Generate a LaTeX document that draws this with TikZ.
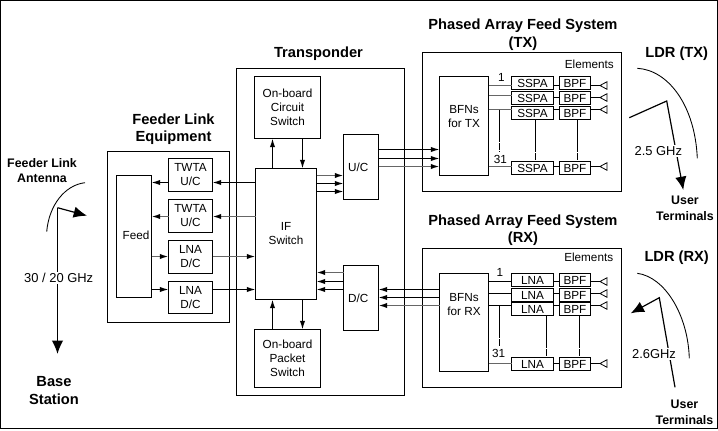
\documentclass[tikz,border=0pt]{standalone}
\usepackage{fontspec}
\setmainfont{Liberation Sans}
\usetikzlibrary{arrows.meta}
% Pixel-like units: y grows downward
\newcommand{\bodyfont}{\fontsize{8.8}{10.5}\selectfont}
\newcommand{\headfont}{\fontsize{11}{13}\selectfont\bfseries}
\newcommand{\subfont}{\fontsize{9.3}{11.6}\selectfont\bfseries}
\newcommand{\freqfont}{\fontsize{9.7}{11}\selectfont}
% \blk{name}{x1}{y1}{x2}{y2}{text}
\newcommand{\blk}[6]{\node[blk,minimum width={(#4-#2)*0.75pt},minimum height={(#5-#3)*0.75pt}] (#1) at ({(#2+#4)/2},{(#3+#5)/2}) {#6};}
\newcommand{\low}[1]{\raisebox{-1pt}{#1}}
\tikzset{
  blk/.style={draw=black,line width=0.75pt,fill=white,inner sep=0pt,outer sep=0pt,align=center,font=\bodyfont},
  txt/.style={inner sep=0pt,align=center,font=\bodyfont},
  head/.style={inner sep=0pt,align=center,font=\headfont},
  sub/.style={inner sep=0pt,align=center,font=\subfont},
  freq/.style={fill=white,inner sep=1pt,font=\freqfont},
  wire/.style={line width=0.9pt,draw=black},
  soft/.style={line width=1.1pt,draw=black!60},
  sig/.style={wire,-{Latex[length=6.5pt,width=4pt]}},
  sigsoft/.style={soft,-{Latex[length=6.5pt,width=4pt,color=black]}},
  beam/.style={line width=0.9pt,draw=black,-{Latex[length=10pt,width=8.5pt]}},
  arc/.style={line width=0.65pt,draw=black},
  tie/.style={line width=0.95pt,draw=black,dash pattern=on 24pt off 1.2pt on 5pt off 1.2pt},
  horn/.style={draw=black,line width=0.6pt,fill=white}
}
% Small feed horn with its point on the left
\newcommand{\horn}[2]{\coordinate (#1) at (600,#2); \draw[horn] (#1) -- ++(7,-3.8) -- ++(0,7.6) -- cycle;}
\begin{document}
\begin{tikzpicture}[x=0.75pt,y=-0.75pt]
\useasboundingbox (0,0) rectangle (718,430);
\draw[line width=1pt] (0.5,0.5) rectangle (717.5,428.5);

% Enclosures
\blk{feedbox}{107.5}{151.5}{229.5}{322.5}{}
\blk{transbox}{236.5}{68.5}{404.5}{395.5}{}
\blk{txbox}{422.5}{52.5}{621.5}{191.5}{}
\blk{rxbox}{422.5}{248.5}{621.5}{387.5}{}

% Feeder link equipment
\blk{feed}{116.5}{175.5}{151.5}{297.5}{\raisebox{2.5pt}{\kern3pt Feed}}
\blk{twa}{168.5}{158.5}{212.5}{191.5}{TWTA\\U/C}
\blk{twb}{168.5}{199.5}{212.5}{232.5}{TWTA\\U/C}
\blk{lna}{168.5}{240.5}{212.5}{273.5}{LNA\\D/C}
\blk{lnb}{168.5}{281.5}{212.5}{313.5}{LNA\\D/C}

% Transponder
\blk{circ}{254.5}{76.5}{320.5}{138.5}{On-board\\Circuit\\Switch}
\blk{ifsw}{255.5}{168.5}{316.5}{299.5}{IF\\Switch}
\blk{pack}{254.5}{329.5}{320.5}{387.5}{On-board\\Packet\\Switch}
\blk{uc}{343.5}{134.5}{378.5}{199.5}{U/C\kern4pt}
\blk{dc}{343.5}{265.5}{378.5}{330.5}{D/C\kern4pt}

% Transmit array
\blk{bfntx}{439.5}{76.5}{488.5}{175.5}{}
\node[txt] (bfntxt) at (464,116.5) {BFNs\\for TX};
\blk{sa}{511.5}{76.5}{553.5}{89.5}{\low{SSPA}}
\blk{sb}{511.5}{91.5}{553.5}{104.5}{\low{SSPA}}
\blk{sc}{511.5}{106.5}{553.5}{119.5}{\low{SSPA}}
\blk{sd}{511.5}{161.5}{553.5}{174.5}{\low{SSPA}}
\blk{fa}{559.5}{76.5}{590.5}{89.5}{\low{BPF}}
\blk{fb}{559.5}{91.5}{590.5}{104.5}{\low{BPF}}
\blk{fc}{559.5}{106.5}{590.5}{119.5}{\low{BPF}}
\blk{fd}{559.5}{161.5}{590.5}{174.5}{\low{BPF}}
\horn{ha}{85.5}\horn{hb}{97.5}\horn{hc}{109.5}\horn{hd}{166.5}

% Receive array
\blk{bfnrx}{439.5}{273.5}{488.5}{371.5}{}
\node[txt] (bfnrxt) at (464,305) {BFNs\\for RX};
\blk{la}{511.5}{273.5}{553.5}{286.5}{\low{LNA}}
\blk{lb}{511.5}{288.5}{553.5}{301.5}{\low{LNA}}
\blk{lc}{511.5}{302.5}{553.5}{315.5}{\low{LNA}}
\blk{ld}{511.5}{357.5}{553.5}{370.5}{\low{LNA}}
\blk{ga}{559.5}{273.5}{590.5}{286.5}{\low{BPF}}
\blk{gb}{559.5}{288.5}{590.5}{301.5}{\low{BPF}}
\blk{gc}{559.5}{302.5}{590.5}{315.5}{\low{BPF}}
\blk{gd}{559.5}{357.5}{590.5}{370.5}{\low{BPF}}
\horn{ra}{281.5}\horn{rb}{293.5}\horn{rc}{305.5}\horn{rd}{363.5}

% Feed to equipment
\draw[sig] (twa.west |- 0,182.5) -- (feed.east |- 0,182.5);
\draw[sigsoft] (twb.west |- 0,216.5) -- (feed.east |- 0,216.5);
\draw[sigsoft] (feed.east |- 0,256.5) -- (lna.west |- 0,256.5);
\draw[sig] (feed.east |- 0,289.5) -- (lnb.west |- 0,289.5);
% Equipment to IF switch
\draw[sig] (ifsw.west |- 0,182.5) -- (twa.east |- 0,182.5);
\draw[sigsoft] (ifsw.west |- 0,216.5) -- (twb.east |- 0,216.5);
\draw[sigsoft] (lna.east |- 0,256.5) -- (ifsw.west |- 0,256.5);
\draw[sig] (lnb.east |- 0,289.5) -- (ifsw.west |- 0,289.5);
% Switches
\draw[sig] (ifsw.north -| 272.5,0) -- (circ.south -| 272.5,0);
\draw[sig] (circ.south -| 302.5,0) -- (ifsw.north -| 302.5,0);
\draw[sig] (pack.north -| 272.5,0) -- (ifsw.south -| 272.5,0);
\draw[sig] (ifsw.south -| 302.5,0) -- (pack.north -| 302.5,0);
% IF switch and converters
\draw[sigsoft] (ifsw.east |- 0,175.5) -- (uc.west |- 0,175.5);
\draw[sig] (ifsw.east |- 0,183.5) -- (uc.west |- 0,183.5);
\draw[sig] (ifsw.east |- 0,191.5) -- (uc.west |- 0,191.5);
\draw[sigsoft] (dc.west |- 0,272.5) -- (ifsw.east |- 0,272.5);
\draw[sig] (dc.west |- 0,281.5) -- (ifsw.east |- 0,281.5);
\draw[sig] (dc.west |- 0,289.5) -- (ifsw.east |- 0,289.5);
% Converters and beam-forming networks
\draw[sig] (uc.east |- 0,149.5) -- (bfntx.west |- 0,149.5);
\draw[sig] (uc.east |- 0,158.5) -- (bfntx.west |- 0,158.5);
\draw[sigsoft] (uc.east |- 0,166.5) -- (bfntx.west |- 0,166.5);
\draw[sig] (bfnrx.west |- 0,289.5) -- (dc.east |- 0,289.5);
\draw[sig] (bfnrx.west |- 0,297.5) -- (dc.east |- 0,297.5);
\draw[sigsoft] (bfnrx.west |- 0,305.5) -- (dc.east |- 0,305.5);

% Element chains, transmit
\draw[soft] (bfntx.east |- ha) -- (sa.west |- ha);
\draw[soft] (bfntx.east |- 0,95.5) -- (sb.west |- 0,95.5);
\draw[soft] (bfntx.east |- hc) -- (sc.west |- hc);
\draw[soft] (bfntx.east |- hd) -- (sd.west |- hd);
\foreach \a/\b/\h in {sa/fa/ha,sb/fb/hb,sc/fc/hc,sd/fd/hd}{
  \draw[wire] (\a.east |- \h) -- (\b.west |- \h);
  \draw[wire] (\b.east |- \h) -- (\h);
}
% Element chains, receive
\draw[wire] (bfnrx.east |- ra) -- (la.west |- ra);
\draw[wire] (bfnrx.east |- rb) -- (lb.west |- rb);
\draw[wire] (bfnrx.east |- rc) -- (lc.west |- rc);
\draw[soft] (bfnrx.east |- rd) -- (ld.west |- rd);
\foreach \a/\b/\h in {la/ga/ra,lb/gb/rb,lc/gc/rc,ld/gd/rd}{
  \draw[wire] (\a.east |- \h) -- (\b.west |- \h);
  \draw[wire] (\b.east |- \h) -- (\h);
}
% Repeated elements between 1 and 31
\coordinate (txtie) at (499.5,152);
\coordinate (rxtie) at (499.5,346);
\draw[tie] (txtie |- hc) -- (txtie);
\draw[tie] (sc.south -| 535.5,0) -- (sd.north -| 535.5,0);
\draw[tie] (fc.south -| 577.5,0) -- (fd.north -| 577.5,0);
\draw[tie] (rxtie |- rc) -- (rxtie);
\draw[tie] (lc.south -| 546.5,0) -- (ld.north -| 546.5,0);
\draw[tie] (gc.south -| 579.5,0) -- (gd.north -| 579.5,0);
\node[txt] (txone) at (501.5,77) {1};
\node[txt] (txlast) at (500.3,159) {31};
\node[txt] (rxone) at (500,272.5) {1};
\node[txt] (rxlast) at (498.7,353) {31};
\node[txt] (txel) at (589.3,64.3) {Elements};
\node[txt] (rxel) at (588.7,257) {Elements};

% Feeder link antenna
\coordinate (fa1) at (46.7,231.7);
\coordinate (fa2) at (85,182.7);
\coordinate (fb0) at (57.5,207.7);
\coordinate (fb1) at (87,215.7);
\coordinate (fb2) at (57.5,354);
\draw[arc] (fa1) .. controls (49,205) and (65,185) .. (fa2);
\draw[beam] (fb0) -- (fb1);
\draw[beam] (fb0) -- (fb2);
\node[freq] (ffreq) at (58.7,278) {30 / 20 GHz};

% User link, transmit
\coordinate (ta1) at (637.3,68.3);
\coordinate (ta2) at (697.3,158.3);
\coordinate (tb0) at (629.3,117.7);
\coordinate (tb1) at (666.7,101);
\coordinate (tb2) at (683.3,190);
\draw[arc] (ta1) .. controls (668,70) and (695,105) .. (ta2);
\draw[beam] (tb0) -- (tb1) -- (tb2);
\node[freq] (tfreq) at (658.3,151) {2.5 GHz};

% User link, receive
\coordinate (ra1) at (637.3,273.3);
\coordinate (ra2) at (689.3,358.3);
\coordinate (rb0) at (675,387.3);
\coordinate (rb1) at (659.3,297.7);
\coordinate (rb2) at (630.7,313.3);
\draw[arc] (ra1) .. controls (665,277) and (688,315) .. (ra2);
\draw[beam] (rb0) -- (rb1) -- (rb2);
\node[freq] (rfreq) at (654,354) {2.6GHz};

% Headings
\node[head] (txhead) at (523,26) {Phased Array Feed System};
\node[head] (txsub) at (523,44) {(TX)};
\node[head] (rxhead) at (523,222) {Phased Array Feed System};
\node[head] (rxsub) at (523,239) {(RX)};
\node[head] (transhead) at (318.5,54) {Transponder};
\node[head] (feedhead) at (173.5,129) {Feeder Link\\Equipment};
\node[head] (ldrtx) at (676.7,53.3) {LDR (TX)};
\node[head] (ldrrx) at (676.7,257.3) {LDR (RX)};
\node[head] (base) at (54,390.5) {Base\\Station};
\node[sub] (fant) at (42,170.5) {Feeder Link\\Antenna};
\node[sub] (tusers) at (685,208.5) {User\\Terminals};
\node[sub] (rusers) at (684.5,412.5) {User\\Terminals};
\end{tikzpicture}
\end{document}
